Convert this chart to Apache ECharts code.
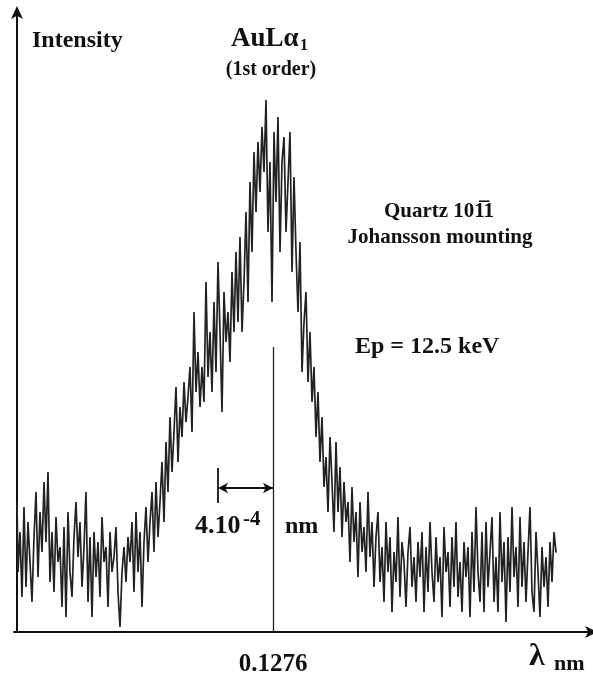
<!DOCTYPE html>
<html>
<head>
<meta charset="utf-8">
<script src="https://cdn.jsdelivr.net/npm/echarts@6/dist/echarts.min.js"></script>
<style>
html,body{margin:0;padding:0;background:#fff;}
#chart{width:593px;height:677px;}
</style>
</head>
<body>
<div id="chart"></div>
<script>
// Detector channels (2 px apart in the reference); intensity in arbitrary units
const intensity = [
130,60,100,35,125, 45,110,70,30,95, 140,55,120,80,150, 90,160,50,100,40,
115,70,85,25,105, 15,120,60,35,95, 130,75,110,45,85, 140,30,95,15,100,
55,90,35,115,70, 85,25,100,60,75, 105,40,5,60,85, 50,95,70,110,40,
120,60,100,25,90, 125,70,110,140,80, 150,95,130,170,110, 190,140,215,160,200,
245,170,225,195,250, 210,235,265,200,320, 240,280,225,265,230, 350,255,300,240,330,
260,370,300,220,340, 290,320,270,360,300, 380,310,395,300,350, 420,330,450,380,480,
420,490,440,505,460, 532,400,470,330,500, 430,515,380,470,495, 400,450,500,360,455,
380,320,390,260,310, 340,250,300,230,265, 195,240,170,215,145, 175,120,195,150,100,
190,120,165,95,150, 110,130,70,145,90, 120,55,130,80,105, 60,140,75,110,45,
95,120,50,85,30, 110,60,95,20,80, 50,115,35,90,70, 25,80,105,45,75,
30,90,55,100,20, 85,40,110,60,30, 95,50,75,15,105, 60,80,25,95,45,
110,35,70,20,90, 55,85,15,100,40, 125,60,30,100,20, 110,45,80,115,30,
75,20,120,50,90, 10,95,40,125,55, 85,25,115,45,90, 30,80,125,40,20,
100,60,15,85,45, 75,25,90,50,100, 80
];
const channels = intensity.map((_, i) => i);
const peakChannel = 128;             // channel of 0.1276 nm
const peakLabel = '0.1276';
const halfWidthChannels = 27.5;      // 4.10^-4 nm
const arrowLevel = 144;
const tickLow = 129, tickHigh = 164;
const markerTop = 285;

const chart = echarts.init(document.getElementById('chart'));
const serif = '"Liberation Serif", "Times New Roman", serif';
const ink = '#111';
function txt(x, y, text, size, align) {
  return {type: 'text', x: x, y: y, style: {text: text, font: 'bold ' + size + 'px ' + serif, fill: ink,
          align: align || 'left', verticalAlign: 'middle'}};
}

chart.setOption({
  animation: false,
  backgroundColor: '#fff',
  grid: {left: 14, right: 1, top: 12, bottom: 45, containLabel: false},
  xAxis: {
    type: 'value', min: -1.5, max: 287.5,
    axisLine: {show: true, lineStyle: {color: ink, width: 2}, symbol: ['none', 'arrow'], symbolSize: [9, 13], symbolOffset: [0, 6]},
    axisTick: {show: false}, axisLabel: {show: false}, splitLine: {show: false}
  },
  yAxis: {
    type: 'value', min: 0, max: 620,
    axisLine: {show: true, lineStyle: {color: ink, width: 2}, symbol: ['none', 'arrow'], symbolSize: [9, 13], symbolOffset: [0, 6]},
    axisTick: {show: false}, axisLabel: {show: false}, splitLine: {show: false}
  },
  series: [{
    type: 'line',
    step: 'middle',
    showSymbol: false,
    data: channels.map((c, i) => [c, intensity[i]]),
    lineStyle: {color: '#222', width: 1.7},
    silent: true,
    markLine: {
      silent: true,
      symbol: ['none', 'none'],
      animation: false,
      data: [
        [{coord: [peakChannel, 0], lineStyle: {color: '#222', width: 1.3, type: 'solid'},
          label: {show: true, position: 'start', formatter: peakLabel, distance: 20,
                  fontFamily: serif, fontWeight: 'bold', fontSize: 25, color: ink}},
         {coord: [peakChannel, markerTop]}],
        [{coord: [peakChannel - halfWidthChannels, arrowLevel], symbol: 'arrow', symbolSize: [8, 10],
          lineStyle: {color: ink, width: 1.8, type: 'solid'}, label: {show: false}},
         {coord: [peakChannel, arrowLevel], symbol: 'arrow', symbolSize: [8, 10]}],
        [{coord: [peakChannel - halfWidthChannels, tickLow], lineStyle: {color: ink, width: 1.8, type: 'solid'}, label: {show: false}},
         {coord: [peakChannel - halfWidthChannels, tickHigh]}]
      ]
    }
  }],
  graphic: [
    txt(32, 41, 'Intensity', 24),
    txt(231, 39, 'AuL\u03b1', 27),
    txt(300, 46, '1', 16),
    txt(271, 70, '(1st order)', 20, 'center'),
    txt(439, 212, 'Quartz 101\u03051', 21, 'center'),
    txt(440, 238, 'Johansson mounting', 21, 'center'),
    txt(355, 347, 'Ep = 12.5 keV', 24),
    txt(195, 526, '4.10', 26),
    txt(243, 520, '-4', 21),
    txt(285, 527, 'nm', 24),
    txt(529, 657, '\u03bb', 32),
    txt(554, 664, 'nm', 22)
  ]
});
</script>
</body>
</html>
